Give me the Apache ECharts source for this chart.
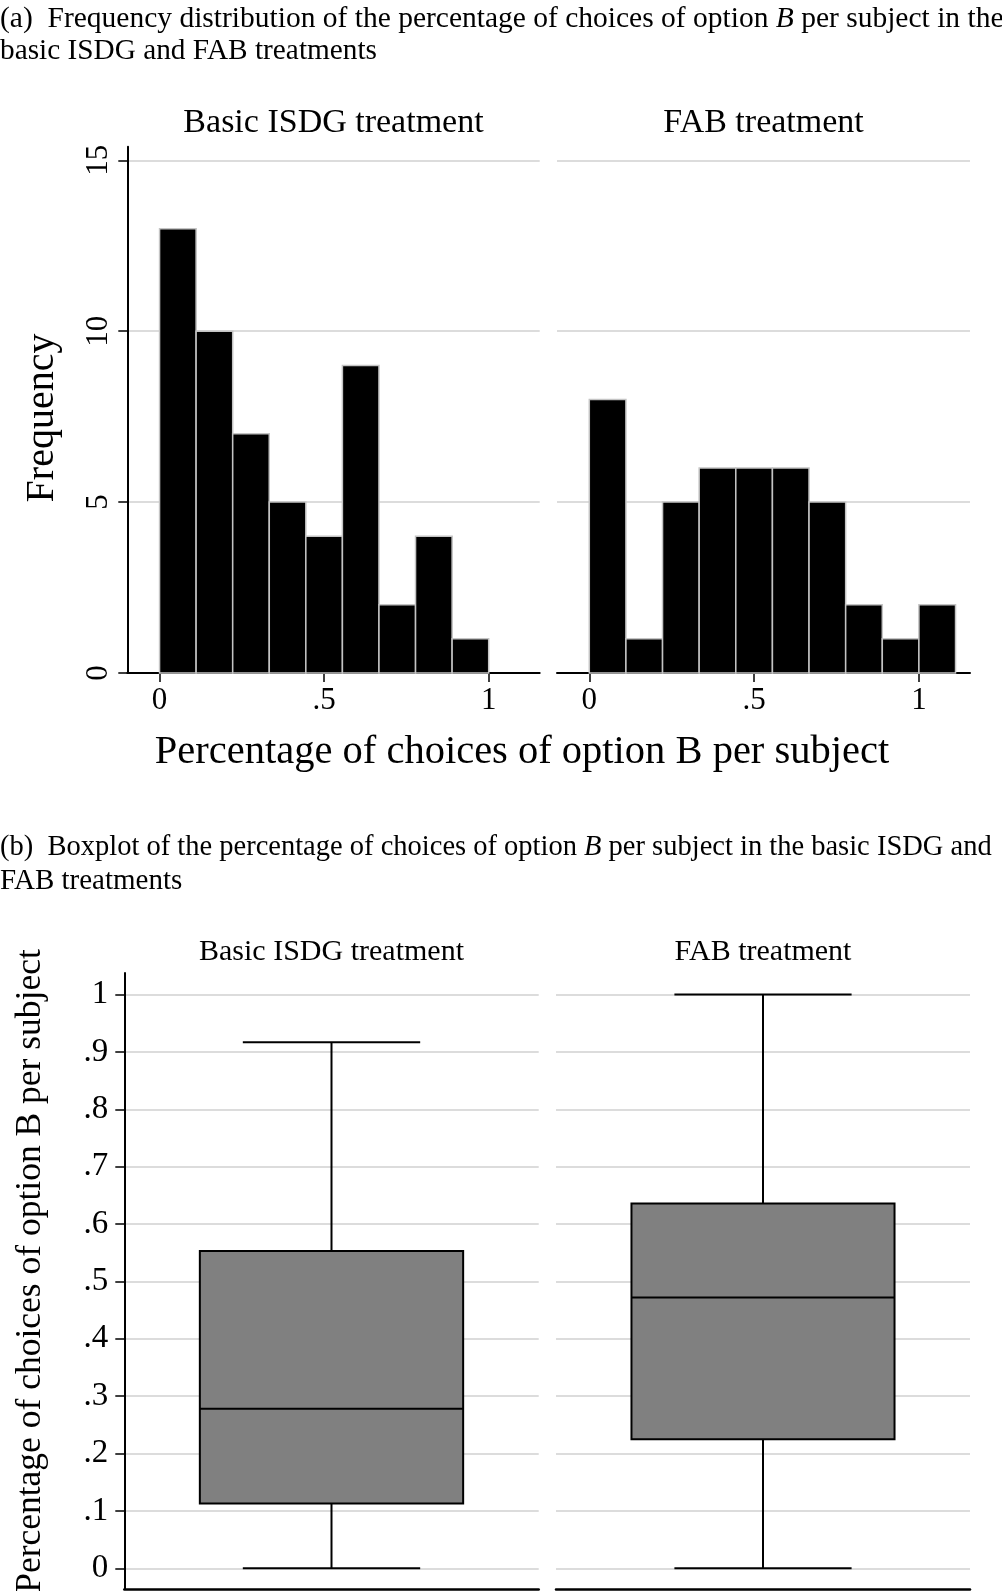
<!DOCTYPE html>
<html>
<head>
<meta charset="utf-8">
<script src="https://cdn.jsdelivr.net/npm/echarts@6/dist/echarts.min.js"></script>
<style>
  html, body { margin: 0; padding: 0; background: #fff; }
  #chart { width: 1002px; height: 1591px; }
</style>
</head>
<body>
<div id="chart"></div>
<script>
// ---------- data ----------
const facetNames = ['Basic ISDG treatment', 'FAB treatment'];
const binWidth = 1 / 9;
const isdgCounts = [13, 10, 7, 5, 4, 9, 2, 4, 1];
const fabCounts = [8, 1, 5, 6, 6, 6, 5, 2, 1, 2];
const histYTicks = [0, 5, 10, 15];
const histXTicks = [0, 0.5, 1];
// boxplot: [min, q1, median, q3, max]
const isdgBox = [0, 0.113, 0.278, 0.553, 0.917];
const fabBox = [0, 0.225, 0.472, 0.636, 1.0];
const boxYTicks = [0, 0.1, 0.2, 0.3, 0.4, 0.5, 0.6, 0.7, 0.8, 0.9, 1];

const FONT = '"Liberation Serif", "Times New Roman", serif';
const GRID_COLOR = '#dcdcdc';

function histData(counts) {
  return counts.map((c, i) => [i * binWidth, (i + 1) * binWidth, c]);
}
function fmtDec(v) {
  if (v === 0) return '0';
  if (v === 1) return '1';
  return String(+v.toFixed(2)).replace(/^0\./, '.');
}

function histRender(params, api) {
  const p0 = api.coord([api.value(0), 0]);
  const p1 = api.coord([api.value(1), api.value(2)]);
  return {
    type: 'rect',
    shape: { x: p0[0], y: p1[1], width: p1[0] - p0[0], height: p0[1] - p1[1] },
    style: { fill: '#000', stroke: '#c4c4c4', lineWidth: 1.5 }
  };
}

function boxRender(params, api) {
  const cat = api.value(0);
  const band = api.size([1, 0])[0];
  const half = band * 0.3177;
  const capHalf = band * 0.214;
  const pMin = api.coord([cat, api.value(1)]);
  const pQ1 = api.coord([cat, api.value(2)]);
  const pMed = api.coord([cat, api.value(3)]);
  const pQ3 = api.coord([cat, api.value(4)]);
  const pMax = api.coord([cat, api.value(5)]);
  const cx = pMed[0];
  const ls = { stroke: '#000', lineWidth: 2, fill: null };
  return {
    type: 'group',
    children: [
      { type: 'line', shape: { x1: cx, y1: pMin[1], x2: cx, y2: pQ1[1] }, style: ls },
      { type: 'line', shape: { x1: cx, y1: pQ3[1], x2: cx, y2: pMax[1] }, style: ls },
      { type: 'line', shape: { x1: cx - capHalf, y1: pMin[1], x2: cx + capHalf, y2: pMin[1] }, style: ls },
      { type: 'line', shape: { x1: cx - capHalf, y1: pMax[1], x2: cx + capHalf, y2: pMax[1] }, style: ls },
      { type: 'rect', shape: { x: cx - half, y: pQ3[1], width: 2 * half, height: pQ1[1] - pQ3[1] },
        style: { fill: '#808080', stroke: '#000', lineWidth: 2 } },
      { type: 'line', shape: { x1: cx - half, y1: pMed[1], x2: cx + half, y2: pMed[1] }, style: ls }
    ]
  };
}

const chart = echarts.init(document.getElementById('chart'), null, { renderer: 'canvas' });

const tickStyle = (show) => ({ color: '#000', width: 1.5, opacity: show ? 1 : 0 });

const histX = (gi) => ({
  type: 'value', gridIndex: gi, min: -0.098, max: 1.155,
  axisLine: { show: true, onZero: false, lineStyle: { color: '#000', width: 2 } },
  axisTick: { show: true, length: 9, lineStyle: tickStyle(true), customValues: histXTicks },
  axisLabel: { show: true, customValues: histXTicks, formatter: fmtDec, margin: 12,
    fontFamily: FONT, fontSize: 31, color: '#000' },
  splitLine: { show: false }
});
const histY = (gi, showAxis) => ({
  type: 'value', gridIndex: gi, min: 0, max: 15.4,
  axisLine: { show: showAxis, onZero: false, lineStyle: { color: '#000', width: 2 } },
  axisTick: { show: true, length: showAxis ? 9 : 0, lineStyle: tickStyle(showAxis), customValues: histYTicks },
  axisLabel: { show: showAxis, rotate: 90, customValues: histYTicks, margin: 13,
    fontFamily: FONT, fontSize: 31, color: '#000' },
  splitLine: { show: true, showMinLine: false, showMaxLine: true, lineStyle: { color: GRID_COLOR, width: 2 } }
});
const boxX = (gi, name) => ({
  type: 'category', gridIndex: gi, data: [name],
  axisLine: { show: true, onZero: false, lineStyle: { color: '#000', width: 2.5 } },
  axisTick: { show: false }, axisLabel: { show: false }, splitLine: { show: false }
});
const boxY = (gi, showAxis) => ({
  type: 'value', gridIndex: gi, min: -0.036, max: 1.0375,
  axisLine: { show: showAxis, onZero: false, lineStyle: { color: '#000', width: 2 } },
  axisTick: { show: true, length: showAxis ? 9 : 0, lineStyle: tickStyle(showAxis), customValues: boxYTicks },
  axisLabel: { show: showAxis, customValues: boxYTicks, formatter: fmtDec, margin: 16,
    fontFamily: FONT, fontSize: 33, color: '#000' },
  splitLine: { show: true, showMinLine: true, showMaxLine: true, lineStyle: { color: GRID_COLOR, width: 2 } }
});

const txt = (x, y, text, size, align, extra) => ({
  type: 'text', x: x, y: y, silent: true,
  style: Object.assign({ text: text, fontFamily: FONT, fontSize: size, fill: '#000',
    align: align || 'left', verticalAlign: 'middle' }, extra || {})
});
const italicRich = (size) => ({ i: { fontFamily: FONT, fontStyle: 'italic', fontSize: size, fill: '#000' } });

const option = {
  animation: false,
  backgroundColor: '#fff',
  grid: [
    { left: 127.3, top: 146.7, width: 412.4, height: 526.3, outerBoundsMode: 'none', containLabel: false },
    { left: 557, top: 146.7, width: 413, height: 526.3, outerBoundsMode: 'none', containLabel: false },
    { left: 124.3, top: 973, width: 414.4, height: 616, outerBoundsMode: 'none', containLabel: false },
    { left: 556, top: 973, width: 414, height: 616, outerBoundsMode: 'none', containLabel: false }
  ],
  xAxis: [histX(0), histX(1), boxX(2, facetNames[0]), boxX(3, facetNames[1])],
  yAxis: [histY(0, true), histY(1, false), boxY(2, true), boxY(3, false)],
  series: [
    { type: 'custom', name: facetNames[0], xAxisIndex: 0, yAxisIndex: 0, renderItem: histRender,
      data: histData(isdgCounts), encode: { x: [0, 1], y: 2 } },
    { type: 'custom', name: facetNames[1], xAxisIndex: 1, yAxisIndex: 1, renderItem: histRender,
      data: histData(fabCounts), encode: { x: [0, 1], y: 2 } },
    { type: 'custom', name: facetNames[0], xAxisIndex: 2, yAxisIndex: 2, renderItem: boxRender,
      data: [[0].concat(isdgBox)], encode: { x: 0, y: [1, 2, 3, 4, 5] } },
    { type: 'custom', name: facetNames[1], xAxisIndex: 3, yAxisIndex: 3, renderItem: boxRender,
      data: [[0].concat(fabBox)], encode: { x: 0, y: [1, 2, 3, 4, 5] } }
  ],
  graphic: [
    txt(0, 19, '(a)  Frequency distribution of the percentage of choices of option {i|B} per subject in the', 29.5, 'left', { rich: italicRich(29.5) }),
    txt(0, 51, 'basic ISDG and FAB treatments', 29.3),
    txt(333.5, 123, facetNames[0], 34, 'center'),
    txt(763.5, 123, facetNames[1], 34, 'center'),
    Object.assign(txt(42, 418, 'Frequency', 40, 'center'), { rotation: Math.PI / 2 }),
    txt(522, 752, 'Percentage of choices of option B per subject', 40.5, 'center'),
    txt(0, 848, '(b)  Boxplot of the percentage of choices of option {i|B} per subject in the basic ISDG and', 28.5, 'left', { rich: italicRich(28.5) }),
    txt(0, 881, 'FAB treatments', 29),
    txt(331.5, 952, facetNames[0], 30, 'center'),
    txt(763, 952, facetNames[1], 30, 'center'),
    Object.assign(txt(31, 1271, 'Percentage of choices of option B per subject', 35.5, 'center'), { rotation: Math.PI / 2 })
  ]
};
chart.setOption(option);
</script>
</body>
</html>
